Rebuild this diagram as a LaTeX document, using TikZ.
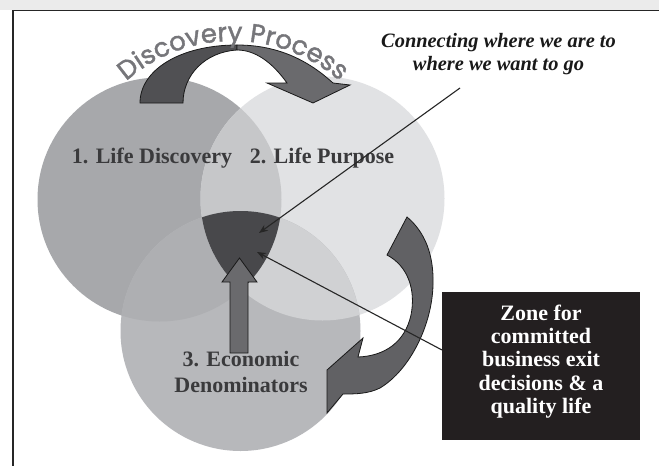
\documentclass[tikz,border=0pt]{standalone}
\usepackage{fontspec}
\setmainfont{Liberation Serif}
\newfontfamily\gothic[FakeBold=1.6]{Poppins}
\usetikzlibrary{decorations.text,arrows.meta}
\definecolor{cone}{HTML}{A7A8AB}
\definecolor{ctwo}{HTML}{E1E2E4}
\definecolor{cthree}{HTML}{B7B8BB}
\definecolor{conetwo}{HTML}{C6C7C9}
\definecolor{conethree}{HTML}{AEAFB2}
\definecolor{ctwothree}{HTML}{D0D1D3}
\definecolor{czone}{HTML}{48484B}
\definecolor{arrdark}{HTML}{505053}
\definecolor{arrlight}{HTML}{6A6A6D}
\definecolor{arrmid}{HTML}{616164}
\definecolor{labelgray}{HTML}{3A3A3C}
\definecolor{procgray}{HTML}{76767A}
\definecolor{boxblack}{HTML}{231F20}
\definecolor{topband}{HTML}{EBEBEB}
\tikzset{
  blockarrow/.style={draw=black!90, line width=0.8pt, line join=miter},
  label/.style={anchor=base, text=labelgray, font=\bfseries\fontsize{22}{24}\selectfont, inner sep=0pt},
  pointer/.style={draw=black!85, line width=1.1pt, -{Stealth[length=9pt,width=7pt]}},
}
\begin{document}
\begin{tikzpicture}[x=1pt,y=-1pt]
\useasboundingbox (0,0) rectangle (659,466);
\fill[white] (0,0) rectangle (659,466);
\fill[topband] (0,0) rectangle (659,10);
\draw[black!85, line width=1.2pt] (659,10.5) -- (13,10.5) -- (13,466);

% circles
\fill[cone] (159.5,199.5) circle[radius=122];
\fill[ctwo] (322.5,198.5) circle[radius=122];
\fill[cthree] (240.5,331) circle[radius=120];
\begin{scope}
  \clip (159.5,199.5) circle[radius=122];
  \fill[conetwo] (322.5,198.5) circle[radius=122];
\end{scope}
\begin{scope}
  \clip (159.5,199.5) circle[radius=122];
  \fill[conethree] (240.5,331) circle[radius=120];
\end{scope}
\begin{scope}
  \clip (322.5,198.5) circle[radius=122];
  \fill[ctwothree] (240.5,331) circle[radius=120];
\end{scope}
\begin{scope}
  \clip (159.5,199.5) circle[radius=122];
  \clip (322.5,198.5) circle[radius=122];
  \fill[czone] (240.5,331) circle[radius=120];
\end{scope}

% top curved arrow (Discovery Process)
\filldraw[blockarrow, fill=arrdark]
  (140,103) .. controls (140,70) and (180,45) .. (237,45)
  -- (237,50) .. controls (205,52) and (183,75) .. (183,103) -- cycle;
\filldraw[blockarrow, fill=arrlight]
  (237,45) .. controls (280,45) and (310,62) .. (333,83)
  -- (350,85) -- (313,103) -- (267,83) -- (287,83)
  .. controls (272,62) and (255,50) .. (237,50) -- cycle;

% Discovery Process text on an arc
\path[decorate, decoration={text along path, text align=center,
   text={|\gothic\fontsize{26}{26}\selectfont\color{procgray}|Discovery Process}}]
  (233,203) ++(-134:162) arc[start angle=-134, end angle=-46, radius=162];

% right curved arrow
\filldraw[blockarrow, fill=arrmid]
  (407,217) .. controls (425,232) and (434,255) .. (433,285)
  .. controls (432,325) and (410,370) .. (380,388)
  .. controls (368,394) and (355,394) .. (343,394)
  -- (327,413) -- (327,370) -- (363,338) -- (358,357)
  .. controls (385,356) and (405,342) .. (411,315)
  .. controls (416,290) and (408,266) .. (387,255) -- cycle;

% up block arrow
\filldraw[blockarrow, fill=arrlight]
  (230,353) -- (230,282) -- (222,282) -- (239.5,258) -- (257,282) -- (248,282) -- (248,353) -- cycle;

% labels
\node[label] (lifediscovery) at (152,163) {1. Life Discovery};
\node[label] (lifepurpose) at (322,163) {2. Life Purpose};
\node[label] (economic) at (241,366) {3. Economic};
\node[label] (denominators) at (241,392) {Denominators};

\node[anchor=base, inner sep=0pt, text=black!90, font=\bfseries\itshape\fontsize{20.4}{22}\selectfont] (conn1) at (498.5,47) {Connecting where we are to};
\node[anchor=base, inner sep=0pt, text=black!90, font=\bfseries\itshape\fontsize{20.4}{22}\selectfont] (conn2) at (498.5,70) {where we want to go};

% black box
\node[fill=boxblack, minimum width=198pt, minimum height=148pt, inner sep=0pt, anchor=north west] (zonebox) at (442,292) {};
\foreach \t/\y [count=\i] in {Zone for/320, committed/343, business exit/366, decisions \& a/390, quality life/413}
  \node[anchor=base, inner sep=0pt, text=white, font=\bfseries\fontsize{22}{24}\selectfont] (zl\i) at (541,\y) {\t};

% connector end points
\coordinate (connstart) at (460,88);
\coordinate (zoneA) at (259,233);
\coordinate (boxpt) at (442,350);
\coordinate (zoneB) at (257,252);
\draw[pointer] (connstart) -- (zoneA);
\draw[pointer] (boxpt) -- (zoneB);
\end{tikzpicture}
\end{document}
